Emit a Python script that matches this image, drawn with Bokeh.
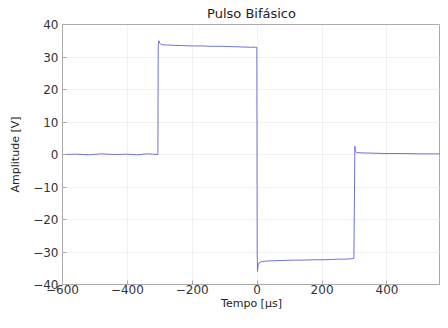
from bokeh.plotting import figure
from bokeh.models import FixedTicker, Range1d
from bokeh.embed import file_html
from bokeh.resources import INLINE

# waveform samples (time in microseconds, amplitude in volts)
t_us = [-600, -560, -520, -480, -440, -400, -370, -340, -320, -306,
        -305, -303, -300, -295, -280, -260, -230, -200, -170, -140, -110, -80, -50, -20, -5, -1,
        0, 1, 3, 6, 12, 25, 50, 80, 110, 140, 170, 200, 230, 250, 270, 290, 298,
        300, 301, 303, 306, 320, 360, 400, 450, 500, 550, 600]
amp_v = [0.0, 0.1, -0.1, 0.2, 0.0, 0.1, -0.1, 0.2, 0.1, 0.0,
         33.5, 35.0, 34.2, 33.8, 33.7, 33.6, 33.5, 33.4, 33.4, 33.3, 33.3, 33.2, 33.1, 33.0, 33.0, 33.0,
         -30.0, -36.0, -34.0, -33.3, -33.0, -32.8, -32.7, -32.6, -32.5, -32.5, -32.4, -32.4, -32.3, -32.2, -32.2, -32.1, -32.0,
         -10.0, 2.5, 1.0, 0.6, 0.5, 0.4, 0.3, 0.3, 0.2, 0.2, 0.2]

x_ticks = [-600, -400, -200, 0, 200, 400, 600]
y_ticks = [-40, -30, -20, -10, 0, 10, 20, 30, 40]

p = figure(width=440, height=312, output_backend="svg", toolbar_location=None,
           title="Pulso Bifásico",
           x_range=Range1d(-600, 565), y_range=Range1d(-40, 40),
           min_border_right=0, min_border_left=62, min_border_top=24, min_border_bottom=0)

p.line(t_us, amp_v, line_color="#7070e0", line_width=1)

p.title.align = "center"
p.title.text_font = "DejaVu Sans"
p.title.text_font_size = "13px"
p.title.text_font_style = "normal"
p.title.text_color = "#222222"
p.title.offset = 0
p.title.standoff = 7

p.outline_line_color = "#aaaaaa"
p.background_fill_color = "white"

p.xaxis.ticker = FixedTicker(ticks=x_ticks)
p.yaxis.ticker = FixedTicker(ticks=y_ticks)
p.yaxis.major_label_overrides = {v: (str(v).replace("-", "\u2212")) for v in y_ticks}
p.xaxis.major_label_overrides = {v: (str(v).replace("-", "\u2212")) for v in x_ticks}

p.xaxis.axis_label = "Tempo [\u03bcs]"
p.yaxis.axis_label = "Amplitude [V]"

for ax in (p.xaxis, p.yaxis):
    ax.axis_line_color = "#aaaaaa"
    ax.major_tick_in = 4
    ax.major_tick_out = 0
    ax.major_tick_line_color = "#aaaaaa"
    ax.minor_tick_line_color = None
    ax.major_label_text_font = "DejaVu Sans"
    ax.major_label_text_font_size = "12px"
    ax.major_label_text_color = "#333333"
    ax.major_label_standoff = 0
    ax.axis_label_text_font = "DejaVu Sans"
    ax.axis_label_text_font_size = "11px"
    ax.axis_label_text_font_style = "normal"
    ax.axis_label_text_color = "#222222"
    ax.axis_label_standoff = 0

p.yaxis.major_label_standoff = 4
p.yaxis.axis_label_standoff = 8

p.xgrid.grid_line_color = "#e2e2e2"
p.ygrid.grid_line_color = "#e2e2e2"
p.xgrid.grid_line_dash = "1 1"
p.ygrid.grid_line_dash = "1 1"

open("out.html", "w").write(file_html(p, INLINE))
